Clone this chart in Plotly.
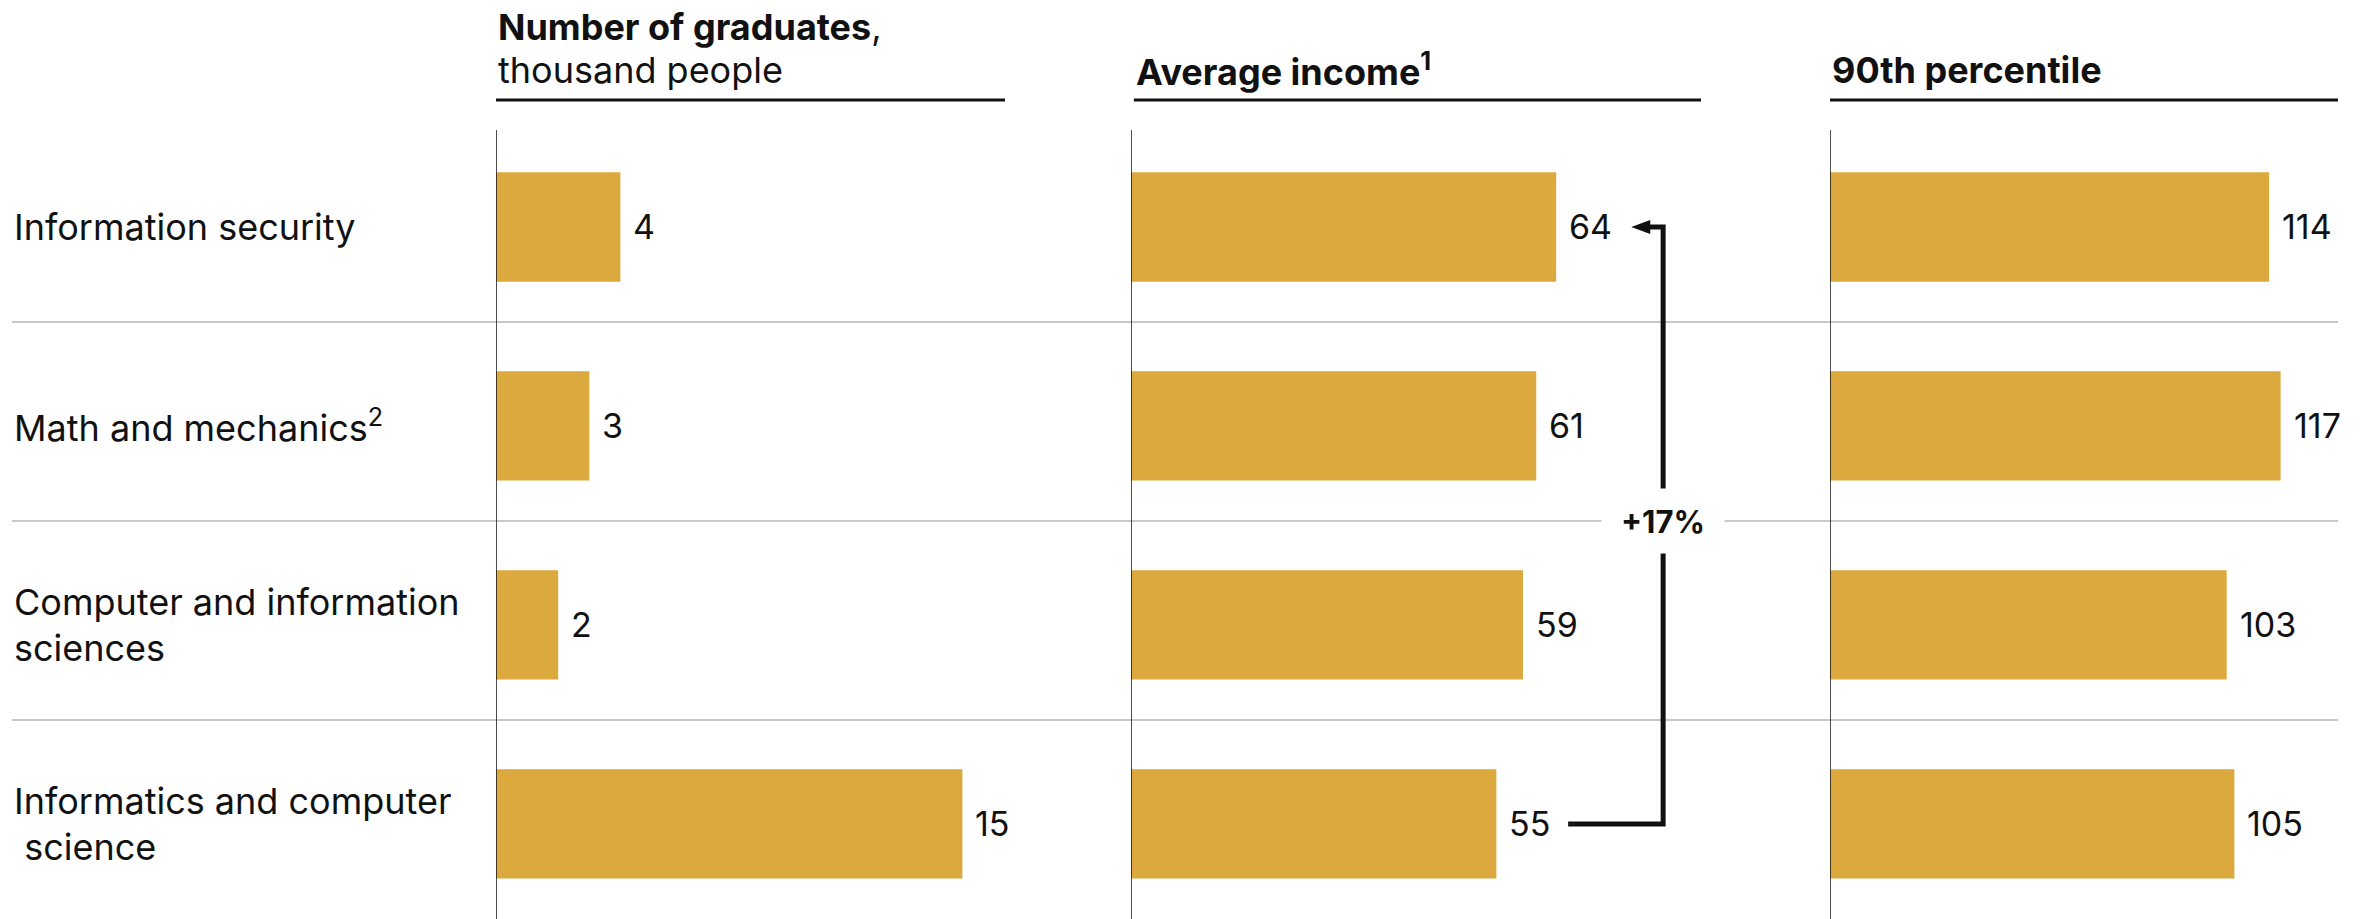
import plotly.graph_objects as go

# ---- data -------------------------------------------------------------
categories = [
    "Information security",
    "Math and mechanics<sup>2</sup>",
    "Computer and information<br>sciences",
    "Informatics and computer<br>\u00a0science",
]
graduates = [4, 3, 2, 15]            # thousand people
avg_income = [64, 61, 59, 55]
p90_income = [114, 117, 103, 105]
change_label = "+17%"

panel_titles = [
    ["<b>Number of graduates</b>,", "thousand people"],
    ["<b>Average income<sup>1</sup></b>"],
    ["<b>90th percentile</b>"],
]

# ---- styling ------------------------------------------------------------
W, H = 2371, 919
TOP = 130
FONT = "Inter"
INK = "#111111"
BAR = "#DBA93D"
GRID = "#C8C8C8"

# horizontal placement of the three panels (fractions of the page width)
domains = [(496 / W, 1005 / W), (1131 / W, 1701 / W), (1830 / W, 2338 / W)]
xranges = [[0, 16.37], [0, 85.8], [0, 131.9]]
series = [graduates, avg_income, p90_income]

y_pos = list(range(len(categories)))
yrange = [len(categories) - 1 + 0.478, -0.487]


def py(px):
    """Pixel row from the top of the page -> paper y."""
    return (H - px) / (H - TOP)


fig = go.Figure()
annotations = []
shapes = []

for k, (vals, dom, xr) in enumerate(zip(series, domains, xranges)):
    xa = "x" if k == 0 else f"x{k + 1}"
    fig.add_trace(go.Bar(
        x=vals, y=y_pos, orientation="h", xaxis=xa, yaxis="y",
        marker=dict(color=BAR, line=dict(width=0)),
        width=0.55, hoverinfo="skip", showlegend=False,
    ))
    axis_key = "xaxis" if k == 0 else f"xaxis{k + 1}"
    fig.update_layout(**{axis_key: dict(
        domain=list(dom), range=xr, anchor="y", visible=False, fixedrange=True,
    )})

    # value labels beside each bar
    for i, v in enumerate(vals):
        annotations.append(dict(
            x=v, y=i, xref=xa, yref="y", text=str(v), showarrow=False,
            xanchor="left", yanchor="middle", xshift=11,
            font=dict(family=FONT, size=34, color=INK),
        ))

    # vertical baseline of the panel
    shapes.append(dict(
        type="line", xref=xa, yref="paper", x0=0, x1=0, y0=0, y1=1,
        line=dict(color=INK, width=1.5), layer="above",
    ))
    # header rule
    shapes.append(dict(
        type="line", xref=f"{xa} domain", yref="paper",
        x0=0 if k != 1 else 0.005, x1=1, y0=py(100), y1=py(100),
        line=dict(color=INK, width=3),
    ))
    # header text (bottom line sits just above the rule)
    lines = panel_titles[k]
    for j, t in enumerate(reversed(lines)):
        annotations.append(dict(
            x=0 if k != 1 else 0.005, xref=f"{xa} domain", y=py(70 - 43 * j),
            yref="paper", text=t, showarrow=False, xanchor="left",
            yanchor="middle", font=dict(family=FONT, size=36, color=INK),
        ))

# row separators
for i in range(len(categories) - 1):
    shapes.append(dict(
        type="line", xref="paper", yref="y", x0=12 / W, x1=2338 / W,
        y0=i + 0.478, y1=i + 0.478, line=dict(color=GRID, width=2),
        layer="below",
    ))

# category labels at the far left
for i, lab in enumerate(categories):
    parts = lab.split("<br>")
    n = len(parts)
    for j, part in enumerate(parts):
        annotations.append(dict(
            x=12 / W, xref="paper", y=i, yref="y", text=part, showarrow=False,
            xanchor="left", yanchor="middle",
            yshift=(n - 1) * 23 - j * 46,
            font=dict(family=FONT, size=36, color=INK),
        ))

# elbow connector between the lowest and highest average income
x_start, x_v, x_tip = 65.8, 80.1, 75.3
shapes.append(dict(
    type="path", xref="x2", yref="y",
    path=f"M {x_start},3 L {x_v},3 L {x_v},0 L {x_tip + 2.2},0",
    line=dict(color=INK, width=5), layer="above",
))
shapes.append(dict(
    type="path", xref="x2", yref="y", xsizemode="pixel", ysizemode="pixel",
    xanchor=x_tip, yanchor=0, path="M 0,0 L 19,7 L 19,-7 Z",
    fillcolor=INK, line=dict(color=INK, width=0), layer="above",
))
annotations.append(dict(
    x=x_v, y=1.478, xref="x2", yref="y", text=f"<b>{change_label}</b>",
    showarrow=False, bgcolor="white", width=118, height=60, borderpad=2,
    font=dict(family=FONT, size=31, color=INK),
))

fig.update_layout(
    width=W, height=H,
    margin=dict(l=0, r=0, t=TOP, b=0),
    paper_bgcolor="white", plot_bgcolor="white",
    yaxis=dict(range=yrange, visible=False, fixedrange=True),
    barmode="overlay",
    shapes=shapes, annotations=annotations,
    font=dict(family=FONT, color=INK),
)

fig.write_html("out.html", config={"displayModeBar": False})
